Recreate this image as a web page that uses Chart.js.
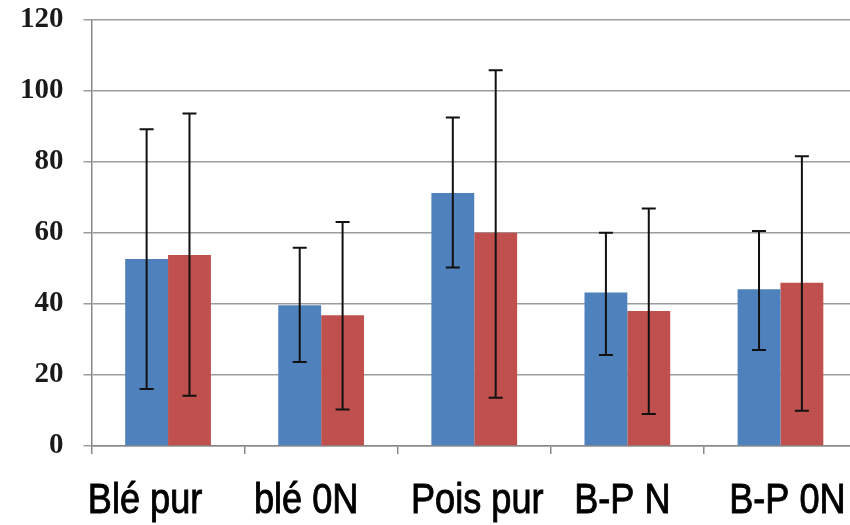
<!DOCTYPE html>
<html lang="fr">
<head>
  <meta charset="UTF-8" />
  <title>Blé / Pois</title>
  <script src="https://cdn.jsdelivr.net/npm/chart.js"></script>
  <style>
    html, body { margin: 0; padding: 0; background: #fff; overflow: hidden; }
    /* top of the original is cut off, so the chart is shifted up a bit */
    .wrap { position: relative; top: -18px; width: 860px; height: 543px; }
  </style>
</head>
<body>
  <div class="wrap">
    <canvas id="chart"></canvas>
  </div>

  <script>
    // values
    const categories = ['Blé pur', 'blé 0N', 'Pois pur', 'B-P N', 'B-P 0N'];
    const yTicks = [0, 20, 40, 60, 80, 100, 120];

    const blueValues = [52.6, 39.6, 71.2, 43.2, 44.1];
    const blueLow    = [16.0, 23.6, 50.2, 25.6, 27.0];
    const blueHigh   = [89.1, 55.8, 92.4, 60.0, 60.5];

    const redValues  = [53.7, 36.8, 60.0, 38.0, 45.9];
    const redLow     = [14.1, 10.3, 13.6,  9.0,  9.9];
    const redHigh    = [93.5, 63.0, 105.7, 66.8, 81.5];

    // the category labels sit a little off-centre in the original
    const labelNudge = [-23, -15, 3, -5, 7];

    const errorBars = {
      id: 'errorBars',
      afterDatasetsDraw(chart) {
        const ctx = chart.ctx;
        const y = chart.scales.y;
        ctx.save();
        ctx.strokeStyle = '#111';
        ctx.lineWidth = 2;
        chart.data.datasets.forEach((ds, di) => {
          const meta = chart.getDatasetMeta(di);
          meta.data.forEach((bar, i) => {
            const x = bar.x;
            const top = y.getPixelForValue(ds.errHigh[i]);
            const bot = y.getPixelForValue(ds.errLow[i]);
            ctx.beginPath();
            ctx.moveTo(x, top); ctx.lineTo(x, bot);
            ctx.moveTo(x - 7, top); ctx.lineTo(x + 7, top);
            ctx.moveTo(x - 7, bot); ctx.lineTo(x + 7, bot);
            ctx.stroke();
          });
        });
        ctx.restore();
      }
    };

    // condensed look of the original labels: squeeze a regular sans horizontally
    const catLabels = {
      id: 'catLabels',
      afterDraw(chart) {
        const ctx = chart.ctx;
        const x = chart.scales.x;
        const baseline = chart.chartArea.bottom + 67;
        const squeeze = 0.86;
        ctx.save();
        ctx.font = '42px "Liberation Sans", Arial, sans-serif';
        ctx.fillStyle = '#000';
        ctx.strokeStyle = '#000';
        ctx.lineWidth = 0.9;
        ctx.textAlign = 'center';
        ctx.textBaseline = 'alphabetic';
        chart.data.labels.forEach((lab, i) => {
          const cx = x.getPixelForValue(i) + labelNudge[i];
          ctx.save();
          ctx.translate(cx, baseline);
          ctx.scale(squeeze, 1);
          ctx.fillText(lab, 0, 0);
          ctx.strokeText(lab, 0, 0);
          ctx.restore();
        });
        ctx.restore();
      }
    };

    new Chart(document.getElementById('chart'), {
      type: 'bar',
      data: {
        labels: categories,
        datasets: [
          { data: blueValues, errLow: blueLow, errHigh: blueHigh, backgroundColor: '#4F81BD' },
          { data: redValues, errLow: redLow, errHigh: redHigh, backgroundColor: '#C0504D' }
        ]
      },
      options: {
        responsive: true,
        maintainAspectRatio: false,
        animation: false,
        layout: { padding: { top: 0, right: 3, left: 0, bottom: 0 } },
        datasets: { bar: { barPercentage: 1.0, categoryPercentage: 0.56 } },
        plugins: { legend: { display: false }, tooltip: { enabled: false } },
        scales: {
          x: {
            grid: { drawOnChartArea: false, drawTicks: true, tickLength: 8, color: '#888', lineWidth: 1.5 },
            border: { color: '#888', width: 1.5 },
            ticks: { display: false },
            afterFit(scale) { scale.height = 79; }
          },
          y: {
            min: 0,
            max: 120,
            afterBuildTicks(scale) { scale.ticks = yTicks.map(v => ({ value: v })); },
            grid: { color: '#9c9c9c', lineWidth: 1.5, tickLength: 8 },
            border: { color: '#888', width: 1.5 },
            ticks: {
              padding: 20,
              color: '#1a1a1a',
              font: { family: '"Liberation Serif", serif', size: 29, weight: 'bold' }
            }
          }
        }
      },
      plugins: [errorBars, catLabels]
    });
  </script>
</body>
</html>
